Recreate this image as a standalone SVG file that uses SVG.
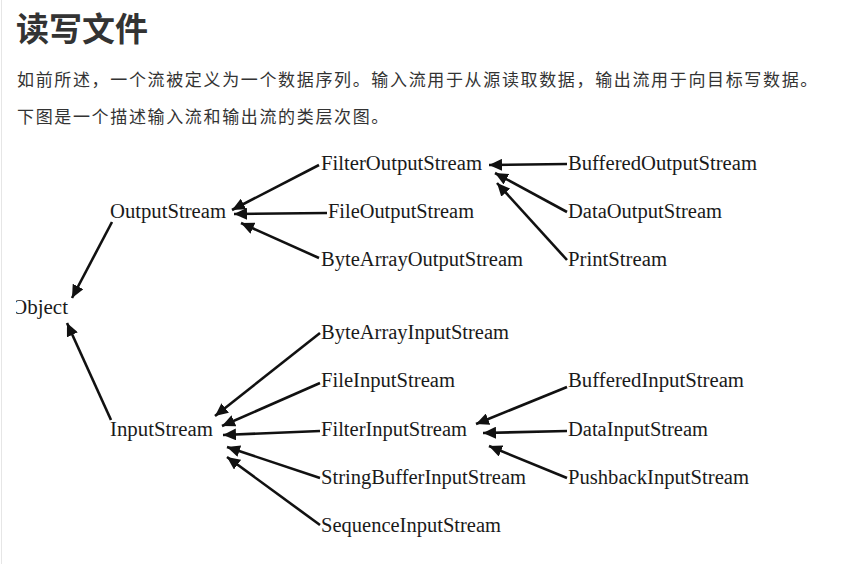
<svg xmlns="http://www.w3.org/2000/svg" width="846" height="564" viewBox="0 0 846 564">
<defs>
<style>
.title{font-family:"Noto Sans CJK SC","Noto Sans",sans-serif;font-size:33px;font-weight:bold;fill:#333}
.para{font-family:"Noto Sans CJK SC","Noto Sans",sans-serif;font-size:17px;fill:#333;letter-spacing:1.65px}
.lbl{font-family:"Liberation Serif","DejaVu Serif",serif;font-size:20px;fill:#1a1a1a}
.edge{stroke:#111;stroke-width:2.6;fill:none;marker-end:url(#ah)}
</style>
<marker id="ah" markerUnits="userSpaceOnUse" markerWidth="14" markerHeight="12" refX="13" refY="6" orient="auto">
<path d="M0,0 L13,6 L0,12 Z" fill="#111"/>
</marker>
<clipPath id="objclip"><rect x="16" y="290" width="80" height="40"/></clipPath>
</defs>
<rect width="846" height="564" fill="#fff"/>
<line x1="1.5" y1="0" x2="1.5" y2="564" stroke="#e6e6e6" stroke-width="1"/>
<text class="title" x="16" y="41">读写文件</text>
<text class="para" x="17" y="86">如前所述，一个流被定义为一个数据序列。输入流用于从源读取数据，输出流用于向目标写数据。</text>
<text class="para" x="17" y="123">下图是一个描述输入流和输出流的类层次图。</text>
<g id="edges">
<line class="edge" x1="112" y1="222" x2="72" y2="298"/>
<line class="edge" x1="111" y1="420" x2="67" y2="323"/>
<line class="edge" x1="319" y1="165" x2="232" y2="210"/>
<line class="edge" x1="327" y1="213" x2="234" y2="214"/>
<line class="edge" x1="319" y1="258" x2="241" y2="223"/>
<line class="edge" x1="567" y1="164" x2="489" y2="165"/>
<line class="edge" x1="567" y1="212" x2="495" y2="173"/>
<line class="edge" x1="567" y1="260" x2="497" y2="183"/>
<line class="edge" x1="320" y1="333" x2="215" y2="416"/>
<line class="edge" x1="320" y1="383" x2="222" y2="426"/>
<line class="edge" x1="320" y1="431" x2="223" y2="435"/>
<line class="edge" x1="320" y1="478" x2="227" y2="447"/>
<line class="edge" x1="320" y1="525" x2="227" y2="457"/>
<line class="edge" x1="567" y1="387" x2="476" y2="424"/>
<line class="edge" x1="567" y1="431" x2="483" y2="433"/>
<line class="edge" x1="567" y1="478" x2="489" y2="446"/>
</g>
<g id="n-object" clip-path="url(#objclip)"><text class="lbl" x="12" y="314" textLength="56" lengthAdjust="spacingAndGlyphs">Object</text></g>
<g id="n-outputstream"><text class="lbl" x="110" y="218" textLength="116" lengthAdjust="spacingAndGlyphs">OutputStream</text></g>
<g id="n-inputstream"><text class="lbl" x="110" y="436" textLength="103" lengthAdjust="spacingAndGlyphs">InputStream</text></g>
<g id="n-filteroutputstream"><text class="lbl" x="321" y="170" textLength="161" lengthAdjust="spacingAndGlyphs">FilterOutputStream</text></g>
<g id="n-fileoutputstream"><text class="lbl" x="328" y="218" textLength="146" lengthAdjust="spacingAndGlyphs">FileOutputStream</text></g>
<g id="n-bytearrayoutputstream"><text class="lbl" x="321" y="266" textLength="202" lengthAdjust="spacingAndGlyphs">ByteArrayOutputStream</text></g>
<g id="n-bufferedoutputstream"><text class="lbl" x="568" y="170" textLength="189" lengthAdjust="spacingAndGlyphs">BufferedOutputStream</text></g>
<g id="n-dataoutputstream"><text class="lbl" x="568" y="218" textLength="154" lengthAdjust="spacingAndGlyphs">DataOutputStream</text></g>
<g id="n-printstream"><text class="lbl" x="568" y="266" textLength="99" lengthAdjust="spacingAndGlyphs">PrintStream</text></g>
<g id="n-bytearrayinputstream"><text class="lbl" x="321" y="339" textLength="188" lengthAdjust="spacingAndGlyphs">ByteArrayInputStream</text></g>
<g id="n-fileinputstream"><text class="lbl" x="321" y="387" textLength="134" lengthAdjust="spacingAndGlyphs">FileInputStream</text></g>
<g id="n-filterinputstream"><text class="lbl" x="321" y="436" textLength="146" lengthAdjust="spacingAndGlyphs">FilterInputStream</text></g>
<g id="n-stringbufferinputstream"><text class="lbl" x="321" y="484" textLength="205" lengthAdjust="spacingAndGlyphs">StringBufferInputStream</text></g>
<g id="n-sequenceinputstream"><text class="lbl" x="321" y="532" textLength="180" lengthAdjust="spacingAndGlyphs">SequenceInputStream</text></g>
<g id="n-bufferedinputstream"><text class="lbl" x="568" y="387" textLength="176" lengthAdjust="spacingAndGlyphs">BufferedInputStream</text></g>
<g id="n-datainputstream"><text class="lbl" x="568" y="436" textLength="140" lengthAdjust="spacingAndGlyphs">DataInputStream</text></g>
<g id="n-pushbackinputstream"><text class="lbl" x="568" y="484" textLength="181" lengthAdjust="spacingAndGlyphs">PushbackInputStream</text></g>
</svg>
